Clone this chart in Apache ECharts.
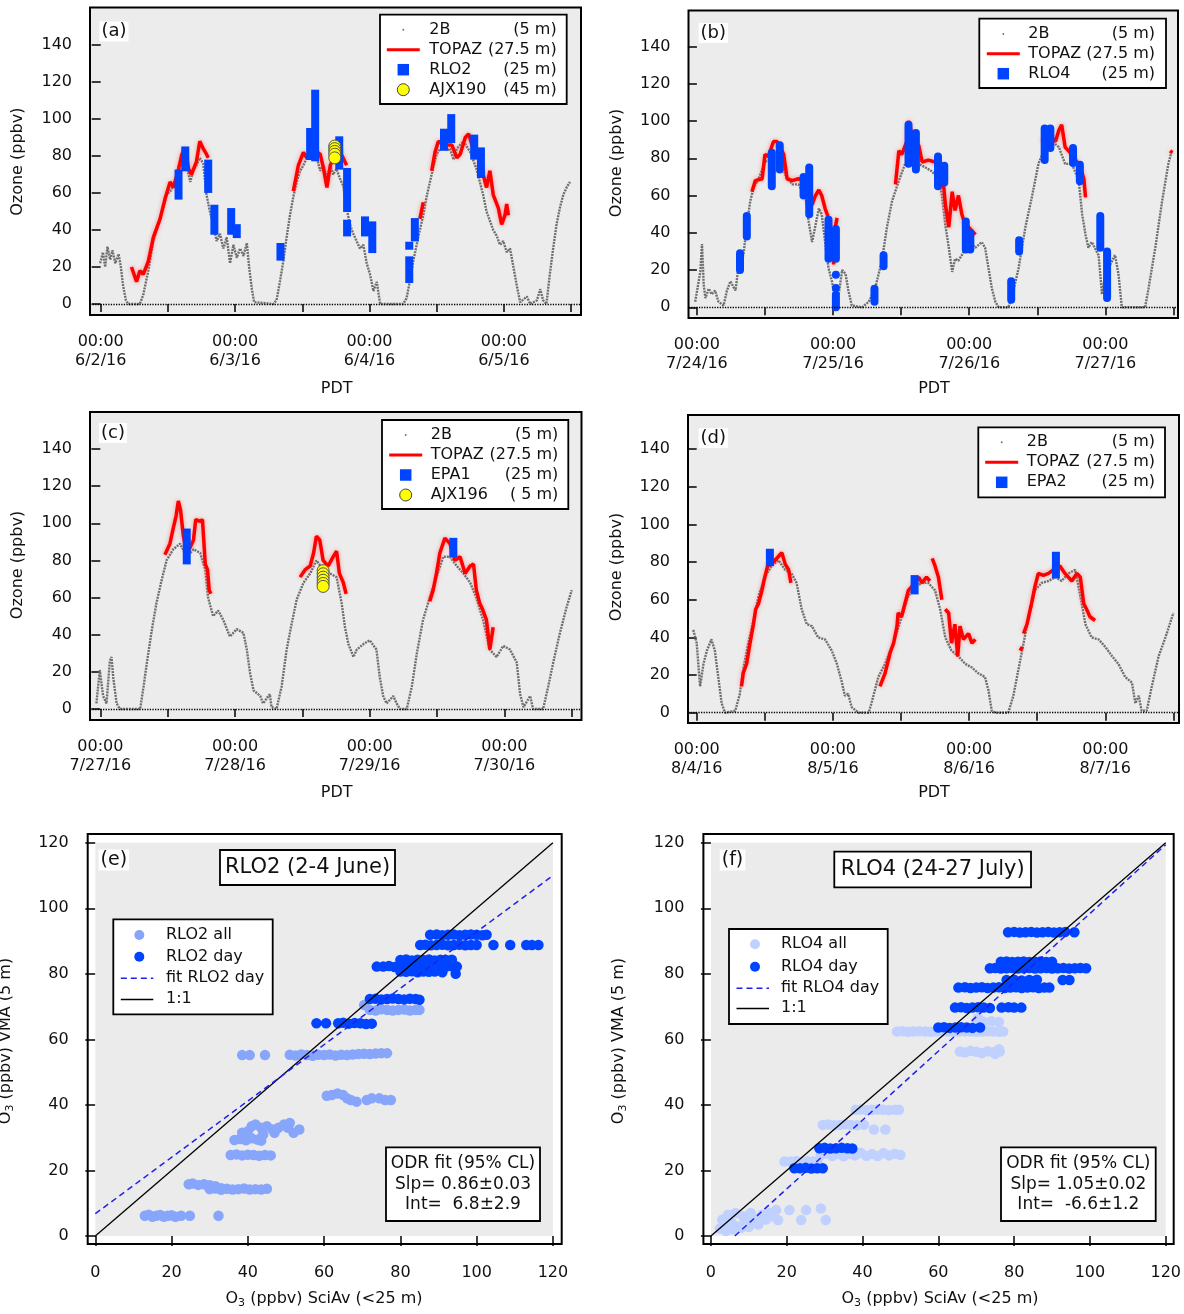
<!DOCTYPE html>
<html><head><meta charset="utf-8">
<script src="https://cdn.jsdelivr.net/npm/echarts@6/dist/echarts.min.js"></script>
<style>html,body{margin:0;padding:0;background:#fff}#c{width:1184px;height:1314px}</style>
</head><body><div id="c"></div><script>
// ---------------- DATA (hours since 00:00 of first day, ozone ppbv) ----------------
const datesA=['6/2/16','6/3/16','6/4/16','6/5/16'];
const datesB=['7/24/16','7/25/16','7/26/16','7/27/16'];
const datesC=['7/27/16','7/28/16','7/29/16','7/30/16'];
const datesD=['8/4/16','8/5/16','8/6/16','8/7/16'];
const tsYTicks=[0,20,40,60,80,100,120,140];
const tsXLabels=[0,24,48,72];
const tsXTicks=[0,12,24,36,48,60,72,84];
const scTicks=[0,20,40,60,80,100,120];

const b2A=[[-0.1,22],[0.4,28],[0.8,20],[1.2,31],[1.7,24],[2.1,29],[2.6,22],[3.2,27],[3.6,20],[4,10],[4.5,2],[4.9,0],[7,0],[7.6,5],[8.5,18],[9.4,34],[10.6,46],[11.8,59],[12.7,62],[13.6,70],[14.8,78],[15.4,74],[16,66],[16.5,72],[17.1,75],[17.7,79],[18.3,76],[18.9,59],[19.5,50],[20.1,43],[20.7,34],[21.3,38],[21.9,30],[22.5,36],[23.1,22],[23.7,32],[24.3,25],[24.9,30],[25.5,26],[26.1,33],[26.5,20],[27,8],[27.4,1],[30.8,0],[31.4,2],[32,12],[32.6,23],[33.2,36],[33.8,48],[34.4,58],[35,66],[35.6,72],[36.2,75],[36.8,79],[37.4,82],[38,78],[38.6,79],[39.2,72],[39.8,75],[40.4,68],[41,75],[41.5,70],[42.1,73],[42.7,68],[43.3,64],[43.9,52],[44.5,43],[45.1,38],[45.7,34],[46.3,30],[46.9,32],[47.5,22],[48.1,16],[48.7,7],[49.3,12],[49.9,0],[54,0],[54.6,3],[55.2,12],[55.8,23],[56.7,36],[57.6,48],[58.2,58],[58.8,66],[59.4,74],[60,81],[60.6,84],[61.2,86],[61.8,83],[62.4,84],[63,78],[63.6,84],[64.2,86],[64.8,88],[65.4,85],[66,82],[66.5,78],[67.1,73],[67.7,66],[68.3,59],[68.9,50],[69.5,45],[70.1,40],[70.7,37],[71.3,32],[71.9,34],[72.5,28],[73.1,30],[73.7,20],[74.3,10],[74.9,1],[76.1,4],[76.7,0],[77.9,2],[78.5,8],[79,2],[79.6,0],[80.2,16],[80.8,30],[81.4,43],[82,52],[82.6,59],[83.2,63],[83.8,66]];
const b2B=[[-0.3,3],[0.6,19],[0.9,34],[1.2,12],[1.5,5],[2.1,10],[2.6,7],[3.2,9],[3.8,3],[4.7,1],[5.3,9],[5.9,14],[6.8,9],[7.3,21],[8.2,28],[8.8,44],[9.4,57],[10,64],[10.9,69],[12,78],[13.2,80],[14.4,82],[15.6,71],[16.8,66],[17.9,66],[19.1,60],[19.7,46],[20.3,35],[20.9,44],[21.5,53],[22,50],[22.6,35],[23.2,21],[23.8,14],[24.4,3],[25,7],[25.6,20],[26.2,18],[26.7,9],[27.3,1],[29.1,0],[30.3,3],[31.4,10],[32.6,25],[33.5,43],[34.4,57],[35.6,68],[36.7,77],[37.9,80],[39.1,77],[40.3,75],[41.4,73],[42.6,69],[43.2,60],[43.8,44],[44.4,32],[45,19],[45.5,26],[46.1,25],[46.7,28],[47.9,35],[49.1,32],[50.2,35],[50.8,32],[51.4,21],[52,10],[52.6,3],[53.2,0],[54.9,0],[55.5,5],[56.7,21],[57.9,43],[59.1,60],[60.2,77],[61.4,86],[62.6,89],[63.8,86],[64.9,77],[66.1,77],[67.3,68],[67.9,50],[68.5,39],[69,32],[69.6,35],[70.8,28],[71.4,7],[72,18],[73.2,25],[73.7,28],[74.3,18],[74.9,0],[79,0],[79.6,10],[80.8,32],[82,57],[83.1,77],[83.7,84]];
const b2C=[[-0.7,3],[-0.1,21],[0.5,7],[1.1,3],[1.7,26],[2,28],[2.3,17],[2.9,3],[3.5,0],[7.1,0],[7.7,12],[8.3,25],[9.2,43],[10,57],[10.9,69],[11.8,80],[13,86],[14.2,89],[15.4,82],[16.6,86],[17.8,84],[18.7,75],[19.2,60],[20.1,50],[21,53],[21.9,48],[23.1,39],[24.3,43],[25.5,41],[26.1,32],[26.7,19],[27.3,10],[28.5,7],[29,3],[30.2,8],[30.5,1],[31.4,0],[32.3,12],[33.2,32],[34.1,46],[35,59],[36.2,68],[37.4,73],[38.5,80],[39.7,75],[40.9,73],[42.1,71],[43,57],[43.6,44],[44.2,35],[45.1,28],[45.7,32],[46.9,35],[48,37],[49.2,32],[49.8,17],[50.4,7],[51,3],[52.2,7],[52.8,3],[53.4,0],[54.6,0],[55.5,12],[56.4,30],[57.5,48],[58.7,60],[59.9,71],[61.1,82],[62.3,82],[63.5,77],[64.7,73],[65.9,68],[67,60],[68.2,48],[69.4,32],[70.6,28],[71.8,34],[73,32],[74.2,25],[74.8,8],[75.4,1],[76.6,7],[77.1,0],[78.9,0],[79.8,12],[80.7,25],[81.9,41],[83.1,55],[84,64]];
const b2D=[[-0.6,44],[0,37],[0.6,14],[1.2,26],[1.8,33],[2.6,39],[3.2,33],[3.8,19],[4.4,5],[5,0],[6.8,1],[7.6,10],[8.2,23],[9.1,37],[10,49],[10.9,62],[12,72],[13.2,78],[14.4,81],[15.6,76],[16.7,74],[17.6,69],[18.5,55],[19.4,47],[20.3,46],[21.4,40],[22.6,39],[23.8,33],[24.7,26],[25.6,16],[26.1,9],[26.7,10],[27.3,3],[28.5,0],[30.3,0],[30.8,5],[32,19],[33.2,26],[34.1,33],[35,40],[36.1,51],[37.3,62],[38.5,67],[39.7,69],[40.8,69],[42,65],[42.9,55],[43.8,40],[44.9,33],[46.1,30],[47.3,26],[48.5,24],[49.6,21],[50.8,19],[51.4,12],[52,1],[52.6,0],[54.9,0],[55.8,9],[56.7,23],[57.6,37],[58.5,51],[59.6,65],[60.8,69],[62,70],[63.2,72],[64.3,70],[65.5,74],[66.7,76],[67.6,62],[68.5,47],[69.6,40],[70.8,39],[72,35],[73.2,30],[74.3,26],[75.5,19],[76.7,16],[77.3,5],[77.9,9],[78.4,1],[79.3,1],[80.2,14],[81.4,30],[82.6,40],[84,53]];

const topA=[
 [[5.5,20],[6.4,12],[7,18],[7.6,16],[8.5,23],[9.4,36],[10.6,46],[11.5,57],[12.4,66],[13,63],[13.9,73],[14.5,81],[15.1,84],[15.7,73],[16.2,70],[17.1,77],[17.7,88],[18.3,84],[18.9,81],[19.2,79]],
 [[34.4,61],[35.3,75],[36.2,82],[36.8,79],[37.7,84],[39.2,81],[39.8,73],[40.4,63],[41,75],[42.4,84],[43.3,79],[43.9,75]],
 [[57,46],[57.6,55]],
 [[59.1,72],[59.7,82],[60.3,88],[61.2,86],[62.7,86],[63.6,79],[64.2,81],[65.1,90],[65.7,92],[66.5,84],[67.4,81],[68.3,70],[68.9,63],[69.5,72],[70.1,59],[71,52],[71.6,43],[72.2,48],[72.5,54],[72.8,48]]];
const topB=[
 [[9.7,62],[10.3,68],[11.5,69],[12,82],[12.6,81],[13.5,89],[14.1,89],[14.7,86],[15.3,82],[15.9,69],[16.8,68],[17.9,69],[18.8,68],[19.4,60],[20.3,55],[20.9,60],[21.5,63],[22,60],[22.6,53],[23.2,48],[23.8,35],[24.1,23],[24.4,43],[24.7,48]],
 [[35,66],[35.6,84],[36.1,82],[37,89],[37.3,100],[37.9,93],[38.5,86],[39.1,87],[39.7,78],[40.8,79],[42,78],[42.6,77],[43.2,75],[43.8,55],[44.4,43],[45,62],[45.5,52],[46.1,60],[46.7,50],[47.3,44],[47.9,43],[48.5,41],[49.1,39]],
 [[60.8,89],[62,93],[62.6,91],[63.2,89],[63.8,95],[64.3,98],[64.9,86],[66.1,82],[67,78],[67.6,75],[68.2,69],[68.5,59]],
 [[83.4,84],[83.8,83]]];
const topC=[
 [[11.5,83],[12.4,89],[12.9,96],[13.5,104],[13.9,112],[14.3,107],[14.8,93],[15.4,84],[16,87],[16.6,91],[17,102],[17.8,101],[18.2,102],[18.7,78],[19.1,75],[19.4,64],[19.7,62]],
 [[35.6,71],[36.5,75],[37.4,77],[38,84],[38.5,93],[39.1,91],[39.7,80],[40.6,77],[41.5,82],[42.1,85],[42.6,73],[43.3,68],[43.8,62]],
 [[58.7,58],[59.3,64],[59.9,73],[60.5,84],[61.4,92],[62.3,89],[63.2,80],[64.1,82],[65,73],[65.9,77],[66.5,78],[67,64],[67.6,57],[68.2,53],[68.8,48],[69.4,32],[70,44]]];
const topD=[
 [[7.9,14],[8.2,21],[8.8,26],[9.4,37],[10,47],[10.4,55],[10.9,58],[11.5,65],[12,72],[12.5,78],[13.2,79],[13.8,81],[14.4,83],[15,85],[15.6,79],[16.2,76],[16.6,69]],
 [[32.3,14],[33.2,21],[34.1,32],[34.7,37],[35.3,46],[35.5,53],[36.1,51],[36.7,58],[37.3,65],[37.9,67],[39.1,72],[39.7,69],[40.5,72],[41.1,70]],
 [[41.5,82],[42,78],[42.6,72],[43.2,60]],
 [[43.8,55],[44.4,53],[44.9,37],[45.5,47],[46,30],[46.4,46],[47,39],[47.9,42],[48.5,37],[49.1,39]],
 [[57,33],[57.4,35]],
 [[57.6,42],[58.2,47],[59,58],[59.6,67],[60.2,74],[61.1,73],[62,74],[62.9,76],[64,78],[64.9,74],[66.1,70],[67,74],[67.6,72],[68.2,58],[68.7,55],[69.3,51],[70.2,49]]];

// point columns: [hour, lowest value, highest value]
const rlo2A=[[13.9,58.6,70.5],[15.1,73.9,83],[19.2,62.2,75.9],[20.3,39.6,51.5],[23.3,39.6,49.7],[24.3,37.8,41],[32.1,25.6,30.8],[37.4,80,93],[38.3,79.3,113.7],[42.6,74.8,88.5],[44,51.9,71.4],[44,38.7,43.4],[47.2,38.7,45.2],[48.5,29.7,42.5],[55.1,13.5,23.6],[55.1,31.5,31.5],[56.1,36,44.3],[61.3,85,92.6],[62.6,89.2,100.5],[66.7,80.2,89.4],[67.9,70.3,82.5]];
const rlo4B=[[7.6,20,29],[8.8,38,49],[13.2,65,83],[14.6,74,87],[18.8,60,70],[19.8,50,75],[23.2,26,47],[24.5,26,42],[24.5,17.5,17.5],[24.5,10.4,10.4],[24.5,0,6.8],[31.3,3,10],[32.9,22,28],[37.3,77,98],[38.6,74,93.5],[42.5,65,81],[43.6,67,76],[47.4,31,46],[48.2,31,40],[55.4,4,14],[56.8,30,36],[61.3,79,96],[62.3,85.5,96],[66.3,77.5,85.5],[67.5,67.6,76.5],[71.1,32,49],[72.3,5,30]];
const epa1C=[[15.4,80,95],[62.9,84,90]];
const epa2D=[[12.9,80,85],[38.4,65,71],[63.3,73.5,83.4]];
const ajx190A=[[41.8,85.4],[41.8,84],[41.8,82.5],[41.8,81],[41.8,79]];
const ajx196C=[[39.7,74.5],[39.7,72.8],[39.7,71],[39.7,69.3],[39.7,67.6],[39.7,66]];

// scatter: [SciAv, VMA]
const rlo2All=[[13,6.2],[14,6.5],[15,5.9],[16,6.2],[17,6.4],[18,5.9],[19,6.2],[20,6.3],[21,5.9],[22.5,6.2],[24.8,6.2],[32.3,6.2],
[24.5,15.8],[25.5,16],[27,15.6],[28.5,15.8],[30,15.5],[31.5,15.2],[33,14.6],
[30,14.3],[31.5,14.5],[33,14.1],[34.5,14.4],[36,14.2],[37.5,14.3],[39,14.5],[40.5,14.2],[42,14.3],[43.5,14.2],[45,14.4],
[35.5,24.7],[37,24.9],[38.5,24.6],[40,24.8],[41.5,24.7],[43,24.5],[44.5,24.7],[46,24.6],
[36.5,29.3],[38,29.6],[39.5,29.2],[41,29.8],[42.5,29.4],[43.5,29.1],
[38.5,31.5],[39,30.5],[40,32],[41,33.5],[42,34],[43.5,33],[44,31],[45,33.5],[46.5,32.5],[47,31.5],[48,33],[49.5,34],[50.5,33],[51,34.5],[52,31.5],[53.5,32.5],
[38.5,55.2],[40.5,55.2],[44.5,55.2],[51,55.3],[52.5,55.1],[54,55.4],[55.5,55.2],[57,55],[58.5,55.3],[60,55.2],[61.5,55.4],[63,55.1],[64.5,55.3],[66,55.2],[67.5,55.4],[69,55.5],[70.5,55.6],[72,55.5],[73.5,55.7],[75,55.8],[76.5,55.8],
[60.7,42.8],[62,43],[63.5,43.5],[65,43],[66,42],[67,41.5],[68.5,41],[71.2,41.5],[72.5,42],[74.5,42],[76,41.5],[77.5,41.5],
[70.5,70.5],[72,69],[73.5,68.8],[75,69.2],[76.5,69],[78,68.8],[79.5,69],[81,69.1],[82.5,68.8],[84,69],[85,69]];
const rlo2Day=[[58,64.9],[60.5,64.9],[63.7,64.9],[65,65.1],[66.5,64.8],[68,65],[69.5,64.9],[71,64.7],[72.5,64.8],
[72,72.3],[73.5,72.4],[75,72.2],[76.5,72.3],[78,72.5],[79.5,72.3],[81,72.2],[82.5,72.4],[84,72.3],[85,72.1],
[73.8,82.2],[75.5,82.2],[77,82.4],[78.5,82.1],[80,82.3],[81.5,82.2],[83,82.4],[84.5,82.2],[86,82.1],[87.5,82.3],[89,82.2],[90.5,82.4],[92,82.2],[93.5,82.3],[94.8,82.2],
[80,84.2],[81.5,84.4],[83,84.1],[84.5,84.3],[86,84.2],[87.5,84.4],[89,84.1],[90.5,84.3],[92,84.2],[93.5,84.3],
[80,80.7],[81.5,80.6],[83,80.8],[84.5,80.5],[86,80.7],[87.5,80.6],[89,80.7],[91,80.5],[94.5,80],
[85.2,88.8],[86.5,88.9],[88,88.7],[89.5,88.8],[91,88.9],[92.5,88.7],[94,88.8],[95.5,88.9],[97,88.7],[98.5,88.8],[100,88.8],[104.4,88.8],[108.8,88.8],[113,88.8],[114.5,88.8],[116.2,88.8],
[87.8,91.9],[89.5,92],[91,91.8],[92.5,91.9],[94,92],[95.5,91.8],[97,91.9],[98.5,92],[100,91.9],[101.5,91.8],[102.6,91.9]];
const rlo4All=[[2.4,2.3],[3.5,3],[4.5,6.5],[5.5,4],[6.5,7],[7.5,3],[8.5,6],[9.5,4.5],[10.5,7],[11.5,5.5],[12.5,3.5],[13.5,6.5],[14.5,5],[15.5,7],[4,1.5],[6,2],[8,2.5],[3,5],[10,2.8],[16,6],
[17.2,7.9],[17.7,4.9],[20.7,7.9],[23.8,4.9],[25.1,7.9],[29,8.4],[30.3,4.9],
[19.4,22.7],[21,22.7],[22.5,22.9],[24,22.6],[25.5,22.8],[27,22.7],[28.1,22.7],
[29,24.7],[30.5,25.2],[32,24.4],[33.5,25],[35,24.3],[36.5,25.1],[38,24.6],[39.5,25.4],[41,24.5],[42.5,25],[44,24.4],[45.5,25.3],[47,24.6],[48.5,25.1],[50,24.7],
[29.5,33.9],[31,34],[32.5,33.8],[34,33.9],[35.5,34.1],[37,33.9],[38.5,33.8],[40.4,33.9],[43,32.5],[46,32.5],
[38.2,38.5],[39.5,38.6],[41,38.4],[42.5,38.5],[44,38.6],[45.5,38.5],[47,38.4],[48.5,38.5],[49.6,38.5],
[49.1,62.4],[50.5,62.5],[52,62.3],[53.5,62.4],[55,62.5],[56.5,62.4],[58,62.3],[59.5,62.4],[61,62.5],[62.5,62.4],[64,62.3],[65.5,62.4],[67,62.5],[68.5,62.4],[70,62.3],[71.5,62.4],[73,62.5],[74.5,62.4],[76,62.3],[77.1,62.4],
[70,65.4],[72,65.4],[74,65.5],[76,65.3],[70.5,66.5],
[65.7,56.3],[67,56],[68.5,56.5],[70,56.2],[71.5,55.8],[73,56.4],[74.5,56.1],[76.2,56.3],[75,55.5],[76,57]];
const rlo4Day=[[22,20.7],[23.5,20.7],[25,20.8],[26.5,20.6],[28,20.7],[29.5,20.7],
[28.6,26.8],[30,26.9],[31.5,26.7],[33,26.8],[34.5,26.9],[36,26.8],[37.3,26.7],
[60,63.6],[61.5,63.7],[63,63.5],[64.5,63.6],[66,63.7],[67.5,63.6],[69,63.5],[71,63.6],
[64.4,69.7],[66,69.8],[67.5,69.6],[69,69.7],[70.5,69.8],[72,69.7],[73.6,69.6],[76.7,69.7],[78.5,69.8],[80,69.7],[81.9,69.7],
[65.3,75.8],[67,75.9],[68.5,75.7],[70,75.8],[71.5,75.9],[73,75.7],[74.5,75.8],[76,75.9],[77.5,75.7],[79,75.8],[80.5,75.9],[82,75.7],[83.5,75.8],[85,75.9],[86.5,75.7],[88,75.8],[89.3,75.8],
[78,78.1],[80,78.2],[82,78],[84,78.1],[86,78.2],[92.8,78.1],[94.6,78.1],
[73.6,81.7],[75,81.8],[76.5,81.6],[78,81.7],[79.5,81.8],[81,81.6],[82.5,81.7],[84,81.8],[85.5,81.6],[87,81.7],[88.5,81.8],[90,81.6],[91.5,81.7],[93,81.8],[94.5,81.6],[96,81.7],[97.5,81.8],[99,81.7],
[76.5,83.7],[78,83.8],[79.5,83.6],[81,83.7],[82.5,83.8],[84,83.6],[85.5,83.7],[87,83.8],[88.5,83.6],[90,83.7],
[78.4,92.7],[80,92.8],[81.5,92.6],[83,92.7],[84.5,92.8],[86,92.6],[87.5,92.7],[89,92.8],[90.5,92.6],[92,92.7],[93.5,92.8],[95.9,92.7]];
const oneToOne=[[0,0],[120,120]];
const fitE=[[0,6.8],[120,110]];
const fitF=[[6.3,0],[120,119.4]];
const shadeBox=[[0,0,120,120]];

// ---------------- BUILD ----------------
const FONT='DejaVu Sans';
const BLUE='#0044ff';
const grids=[],xAxes=[],yAxes=[],series=[],graphics=[];

function colRenderer(round){
  return function(params,api){
    const t=api.value(0),lo=api.value(1),hi=api.value(2);
    const a=api.coord([t,hi]),b=api.coord([t,lo]);const s=8;
    return {type:'rect',shape:{x:a[0]-s/2,y:a[1]-s/2,width:s,height:b[1]-a[1]+s,r:round?s/2:0},style:{fill:BLUE}};
  };
}
function areaRender(params,api){
  const p0=api.coord([api.value(0),api.value(1)]),p1=api.coord([api.value(2),api.value(3)]);
  return {type:'rect',shape:{x:p0[0],y:p1[1],width:p1[0]-p0[0],height:p0[1]-p1[1]},style:{fill:'#ebebeb'}};
}
const tickStyle={color:'#000',width:1.5};
const lblStyle={fontFamily:FONT,fontSize:16,color:'#111'};

function tsPanel(i,g,xr,yr,dates,b2,top,cols,round,yellow){
  grids.push({left:g[0],top:g[1],width:g[2],height:g[3],show:true,backgroundColor:'#ececec',borderColor:'#000',borderWidth:2});
  xAxes.push({gridIndex:i,type:'value',min:xr[0],max:xr[1],offset:2,splitLine:{show:false},axisLine:{show:false},
    axisTick:{show:true,length:8,lineStyle:tickStyle,customValues:tsXTicks},
    axisLabel:Object.assign({customValues:tsXLabels,formatter:v=>'00:00\n'+dates[Math.round(v/24)],lineHeight:19,margin:15},lblStyle)});
  yAxes.push({gridIndex:i,type:'value',min:yr[0],max:yr[1],offset:3,splitLine:{show:false},axisLine:{show:false},
    axisTick:{show:true,length:9,lineStyle:tickStyle,customValues:tsYTicks},
    axisLabel:Object.assign({customValues:tsYTicks,margin:15},lblStyle)});
  series.push({type:'line',xAxisIndex:i,yAxisIndex:i,data:b2,showSymbol:false,z:2,lineStyle:{color:'#6e6e6e',width:2.4,type:[2,1]},
    markLine:{silent:true,symbol:['none','none'],label:{show:false},lineStyle:{color:'#000',type:'dotted',width:1.3},data:[{yAxis:0}]}});
  top.forEach(seg=>series.push({type:'line',xAxisIndex:i,yAxisIndex:i,data:seg,showSymbol:false,z:3,
    lineStyle:{color:'#ff0000',width:3.5,shadowColor:'rgba(255,90,90,0.6)',shadowBlur:4}}));
  series.push({type:'custom',xAxisIndex:i,yAxisIndex:i,data:cols,encode:{x:0,y:[1,2]},renderItem:colRenderer(round),z:4});
  if(yellow) series.push({type:'scatter',xAxisIndex:i,yAxisIndex:i,data:yellow,symbolSize:12,z:5,
    itemStyle:{color:'#ffff00',borderColor:'#555',borderWidth:1,opacity:1}});
}
function scPanel(i,g,xr,yr,all,day,allColor,fit){
  grids.push({left:g[0],top:g[1],width:g[2],height:g[3],show:true,backgroundColor:'#fff',borderColor:'#000',borderWidth:2});
  xAxes.push({gridIndex:i,type:'value',min:xr[0],max:xr[1],offset:1.5,splitLine:{show:false},axisLine:{show:false},
    axisTick:{show:true,length:10,lineStyle:tickStyle,customValues:scTicks},
    axisLabel:Object.assign({customValues:scTicks,margin:19},lblStyle)});
  yAxes.push({gridIndex:i,type:'value',min:yr[0],max:yr[1],offset:2,splitLine:{show:false},axisLine:{show:false},
    axisTick:{show:true,length:10,lineStyle:tickStyle,customValues:scTicks},
    axisLabel:Object.assign({customValues:scTicks,margin:17},lblStyle)});
  series.push({type:'custom',xAxisIndex:i,yAxisIndex:i,data:shadeBox,encode:{x:[0,2],y:[1,3]},renderItem:areaRender,z:1,silent:true});
  series.push({type:'scatter',xAxisIndex:i,yAxisIndex:i,data:all,symbolSize:10.5,z:3,itemStyle:{color:allColor,opacity:1}});
  series.push({type:'scatter',xAxisIndex:i,yAxisIndex:i,data:day,symbolSize:10.5,z:4,itemStyle:{color:BLUE,opacity:1}});
  series.push({type:'line',xAxisIndex:i,yAxisIndex:i,data:oneToOne,showSymbol:false,z:5,lineStyle:{color:'#000',width:1.3}});
  series.push({type:'line',xAxisIndex:i,yAxisIndex:i,data:fit,showSymbol:false,z:6,lineStyle:{color:'#2020ee',width:1.5,type:[6,4]}});
}

tsPanel(0,[90,7.5,491,307.5],[-1.91,85.77],[-5.95,160.3],datesA,b2A,topA,rlo2A,false,ajx190A);
tsPanel(1,[688.5,10.5,489.5,307.5],[-1.48,84.8],[-5.74,159.3],datesB,b2B,topB,rlo4B,true,null);
tsPanel(2,[90,412,491.5,308],[-1.84,85.74],[-5.92,159.9],datesC,b2C,topC,epa1C,false,ajx196C);
tsPanel(3,[688,415,491,308],[-1.53,84.99],[-5.47,158.2],datesD,b2D,topD,epa2D,false,null);
scPanel(4,[87.7,834,474,410],[-1.99,122.3],[-2.44,122.67],rlo2All,rlo2Day,'#87a6fb',fitE);
scPanel(5,[703.4,834,473.3,410],[-1.99,122.1],[-2.44,122.67],rlo4All,rlo4Day,'#c0d1ff',fitF);

// ---------------- annotations ----------------
function T(x,y,s,o){return Object.assign({type:'text',x:x,y:y,z:20,style:Object.assign({text:s,fill:'#111',font:'16px '+FONT,fontFamily:FONT,fontSize:16,textAlign:'left',align:'left',textVerticalAlign:'middle',verticalAlign:'middle'},o||{})});}
function R(x,y,w,h,lw){return {type:'rect',z:19,shape:{x:x,y:y,width:w,height:h},style:{fill:'#fff',stroke:'#000',lineWidth:lw||1.5}};}
function L(x1,y1,x2,y2,c,w,dash){return {type:'line',z:20,shape:{x1:x1,y1:y1,x2:x2,y2:y2},style:{stroke:c,lineWidth:w,lineDash:dash||null}};}
function C(cx,cy,r,f,s){return {type:'circle',z:20,shape:{cx:cx,cy:cy,r:r},style:{fill:f,stroke:s||null,lineWidth:s?1:0}};}
function S(cx,cy,a,f){return {type:'rect',z:20,shape:{x:cx-a/2,y:cy-a/2,width:a,height:a},style:{fill:f}};}
function panelLabel(cx,cy,s,fs){graphics.push(T(cx,cy,s,{textAlign:'center',align:'center',fontSize:fs||18,font:(fs||18)+'px '+FONT,backgroundColor:'#fff',padding:[1,2]}));}

function tsLegend(box,rows,symX,textX,rightX,items){
  graphics.push(R(box[0],box[1],box[2],box[3],1.8));
  items.forEach((it,k)=>{const y=rows[k];
    if(it[0]==='dot') graphics.push(C(symX,y,1,'#777'));
    if(it[0]==='line') graphics.push(L(symX-16.5,y,symX+16.5,y,'#ff0000',3));
    if(it[0]==='square') graphics.push(S(symX,y,11.5,BLUE));
    if(it[0]==='yc') graphics.push(C(symX,y,6,'#ffff00','#444'));
    graphics.push(T(textX,y,it[1]));
    graphics.push(T(rightX,y,it[2],{textAlign:'right',align:'right'}));
  });
}
tsLegend([380,14.7,186.7,89.3],[29.7,49.7,69.7,89.7],403.3,429.3,556.7,[['dot','2B','(5 m)'],['line','TOPAZ','(27.5 m)'],['square','RLO2','(25 m)'],['yc','AJX190','(45 m)']]);
tsLegend([979.3,18.7,186.7,69.3],[34,53.7,73.7],1003.3,1028.3,1155,[['dot','2B','(5 m)'],['line','TOPAZ','(27.5 m)'],['square','RLO4','(25 m)']]);
tsLegend([382,420,186.3,89],[435,455,475,495],405.7,430.7,558.3,[['dot','2B','(5 m)'],['line','TOPAZ','(27.5 m)'],['square','EPA1','(25 m)'],['yc','AJX196','( 5 m)']]);
tsLegend([978.3,427.3,186.7,70],[442.3,462.3,482.3],1001.7,1026.7,1155,[['dot','2B','(5 m)'],['line','TOPAZ','(27.5 m)'],['square','EPA2','(25 m)']]);

panelLabel(114,31.5,'(a)');panelLabel(713.3,33,'(b)');panelLabel(113,433,'(c)');panelLabel(713.3,438,'(d)');
panelLabel(113.8,860,'(e)',19);panelLabel(732.5,860,'(f)',19);

// axis titles
[[18.3,161.7],[617,163],[18.3,565],[617,567]].forEach(p=>{const g=T(p[0],p[1],'Ozone (ppbv)',{textAlign:'center',align:'center'});g.rotation=Math.PI/2;graphics.push(g);});
[[336.7,389],[934,389],[336.7,793],[934,793]].forEach(p=>graphics.push(T(p[0],p[1],'PDT',{textAlign:'center',align:'center'})));

const richSub={a:{fontFamily:FONT,fontSize:16,fill:'#111',lineHeight:20},s:{fontFamily:FONT,fontSize:11,fill:'#111',lineHeight:9,verticalAlign:'bottom'}};
function subText(x,y,tail,rot){const g=T(x,y,'{a|O}{s|3}{a|'+tail+'}',{textAlign:'center',align:'center',rich:richSub});if(rot)g.rotation=Math.PI/2;graphics.push(g);}
subText(324,1299,' (ppbv) SciAv (<25 m)');subText(940,1299,' (ppbv) SciAv (<25 m)');
subText(6,1041,' (ppbv) VMA (5 m)',true);subText(619,1041,' (ppbv) VMA (5 m)',true);

// scatter title boxes
graphics.push(R(220,850,175,35,1.8));graphics.push(T(307.5,867.5,'RLO2 (2-4 June)',{textAlign:'center',align:'center',fontSize:21,font:'21px '+FONT}));
graphics.push(R(834.3,851.7,196.7,35.6,1.8));graphics.push(T(932.7,869.5,'RLO4 (24-27 July)',{textAlign:'center',align:'center',fontSize:21,font:'21px '+FONT}));
// ODR boxes
function odr(x,y,w,h,l2,l3){graphics.push(R(x,y,w,h,1.8));const cx=x+w/2;
  [['ODR fit (95% CL)',16],[l2,37],[l3,57.7]].forEach(r=>graphics.push(T(cx,y+r[1],r[0],{textAlign:'center',align:'center',fontSize:17,font:'17px '+FONT})));}
odr(386,1147.3,154,73.7,'Slp= 0.86±0.03','Int=  6.8±2.9');
odr(1001,1147.3,154.7,73.7,'Slp= 1.05±0.02','Int=  -6.6±1.2');
// scatter legends
function scLegend(box,rows,symX,textX,lab,allColor){
  graphics.push(R(box[0],box[1],box[2],box[3],1.8));
  graphics.push(C(symX,rows[0],5,allColor));graphics.push(T(textX,rows[0],lab+' all'));
  graphics.push(C(symX,rows[1],5,BLUE));graphics.push(T(textX,rows[1],lab+' day'));
  graphics.push(L(symX-18.5,rows[2],symX+14,rows[2],'#2020ee',1.5,[6,4]));graphics.push(T(textX,rows[2],'fit '+lab+' day'));
  graphics.push(L(symX-18.5,Math.round(rows[3])+0.5,symX+14,Math.round(rows[3])+0.5,'#000',1.3));graphics.push(T(textX,rows[3],'1:1'));
}
scLegend([113.3,919.3,159.4,95],[935,956.7,978.3,999],139.3,166,'RLO2','#87a6fb');
scLegend([729,929,158.7,95],[944.3,966.7,988.3,1008.3],755,781,'RLO4','#c0d1ff');

const chart=echarts.init(document.getElementById('c'),null,{renderer:'canvas'});
chart.setOption({animation:false,backgroundColor:'#fff',grid:grids,xAxis:xAxes,yAxis:yAxes,series:series,graphic:{elements:graphics}});
</script></body></html>
